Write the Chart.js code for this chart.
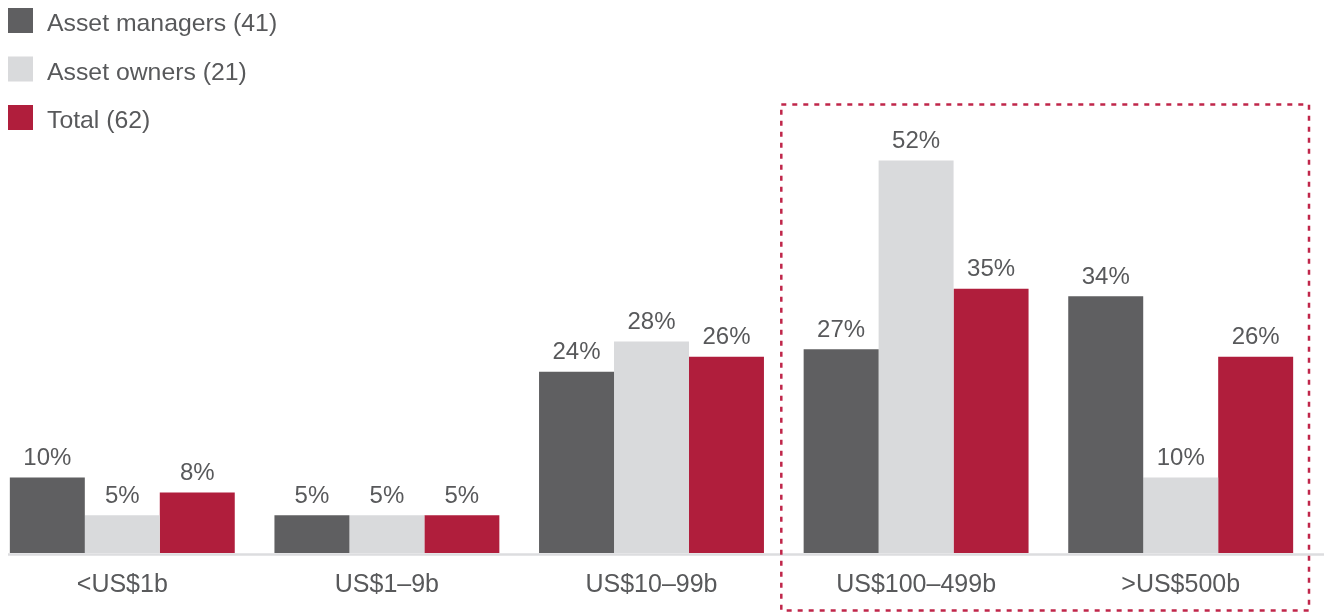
<!DOCTYPE html>
<html>
<head>
<meta charset="utf-8">
<script src="https://cdn.jsdelivr.net/npm/chart.js@4.4.1/dist/chart.umd.min.js"></script>
<style>
  html, body { margin: 0; padding: 0; background: #ffffff; overflow: hidden; }
  #wrap { position: relative; width: 1324px; height: 612px; overflow: hidden; }
  #c { position: absolute; left: -10px; top: 0; }
</style>
</head>
<body>
<div id="wrap"><canvas id="c" width="1344" height="612"></canvas></div>
<script>
const categories = ['<US$1b', 'US$1–9b', 'US$10–99b', 'US$100–499b', '>US$500b'];
const seriesNames = ['Asset managers (41)', 'Asset owners (21)', 'Total (62)'];
const assetManagers = [10, 5, 24, 27, 34];
const assetOwners = [5, 5, 28, 52, 10];
const total = [8, 5, 26, 35, 26];
const highlightedCategories = ['US$100–499b', '>US$500b'];

const COLORS = ['#5f5f61', '#d9dadc', '#b01e3c'];
const TEXT = '#58595b';
const FONT = "'Liberation Sans', Arial, sans-serif";
const OFFSET = 10; // canvas shifted left by this many px

const labelsPlugin = {
  id: 'barLabels',
  afterDatasetsDraw(chart) {
    const ctx = chart.ctx;
    ctx.save();
    ctx.fillStyle = TEXT;
    ctx.font = "24px " + FONT;
    ctx.textAlign = 'center';
    ctx.textBaseline = 'alphabetic';
    chart.data.datasets.forEach((ds, i) => {
      const meta = chart.getDatasetMeta(i);
      meta.data.forEach((bar, j) => {
        ctx.fillText(ds.data[j] + '%', bar.x, bar.y - 12.5);
      });
    });
    ctx.restore();
  }
};

const axisLinePlugin = {
  id: 'axisLine',
  beforeDatasetsDraw(chart) {
    const ctx = chart.ctx;
    const y = chart.chartArea.bottom + 1.5;
    ctx.save();
    ctx.strokeStyle = '#dcdddf';
    ctx.lineWidth = 2.5;
    ctx.beginPath();
    ctx.moveTo(OFFSET + 8, y);
    ctx.lineTo(chart.width, y);
    ctx.stroke();
    ctx.restore();
  }
};

const legendPlugin = {
  id: 'customLegend',
  afterDraw(chart) {
    const ctx = chart.ctx;
    ctx.save();
    ctx.font = "24.8px " + FONT;
    ctx.textBaseline = 'alphabetic';
    ctx.textAlign = 'left';
    chart.data.datasets.forEach((ds, i) => {
      const top = 8 + i * 48.5;
      ctx.fillStyle = ds.backgroundColor;
      ctx.fillRect(OFFSET + 8, top, 25, 25);
      ctx.fillStyle = TEXT;
      ctx.fillText(ds.label, OFFSET + 47, top + 23);
    });
    ctx.restore();
  }
};

const highlightPlugin = {
  id: 'highlightBox',
  afterDraw(chart) {
    const x = chart.scales.x;
    const y = chart.scales.y;
    const i0 = categories.indexOf(highlightedCategories[0]);
    const i1 = categories.indexOf(highlightedCategories[highlightedCategories.length - 1]);
    const pitch = x.getPixelForValue(1) - x.getPixelForValue(0);
    const left = x.getPixelForValue(i0) - pitch / 2 - 2.5;
    const right = x.getPixelForValue(i1) + pitch / 2 - 4;
    const top = y.getPixelForValue(59.4);
    const bottom = chart.height - 1.5;
    const ctx = chart.ctx;
    ctx.save();
    ctx.strokeStyle = '#c0264a';
    ctx.lineWidth = 2.5;
    ctx.setLineDash([5, 6]);
    ctx.strokeRect(left, top, right - left, bottom - top);
    ctx.restore();
  }
};

new Chart(document.getElementById('c'), {
  type: 'bar',
  data: {
    labels: categories,
    datasets: [
      { label: seriesNames[0], data: assetManagers, backgroundColor: COLORS[0] },
      { label: seriesNames[1], data: assetOwners, backgroundColor: COLORS[1] },
      { label: seriesNames[2], data: total, backgroundColor: COLORS[2] }
    ]
  },
  options: {
    responsive: false,
    animation: false,
    devicePixelRatio: 1,
    categoryPercentage: 0.85,
    barPercentage: 1.0,
    layout: { padding: { left: 0, right: 21, top: 24.5, bottom: 0 } },
    plugins: { legend: { display: false }, tooltip: { enabled: false } },
    scales: {
      x: {
        grid: { display: false, drawTicks: false },
        border: { display: false },
        ticks: { color: TEXT, font: { family: FONT, size: 25 }, padding: 17, maxRotation: 0 },
        afterFit(scale) { scale.height = 59; }
      },
      y: {
        display: false,
        min: 0,
        max: 70
      }
    }
  },
  plugins: [axisLinePlugin, labelsPlugin, legendPlugin, highlightPlugin]
});
</script>
</body>
</html>
